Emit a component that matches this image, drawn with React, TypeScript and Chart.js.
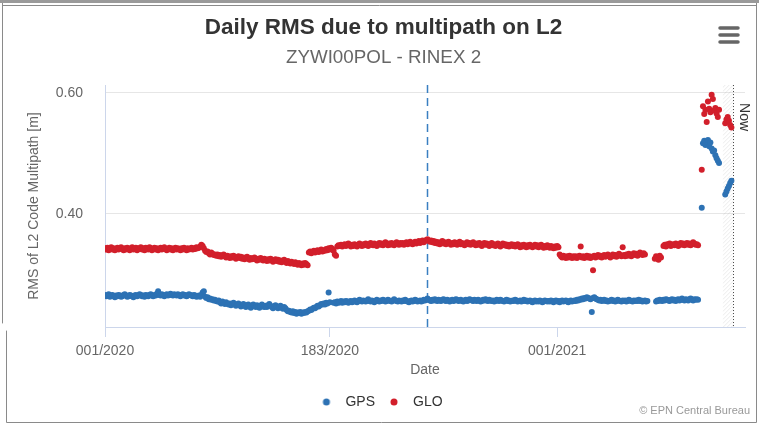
import React, { useEffect, useRef } from 'react';
import { Chart, registerables } from 'chart.js';

Chart.register(...registerables);

const FONT = "'Liberation Sans', Arial, Helvetica, sans-serif";

const TITLE = 'Daily RMS due to multipath on L2';
const SUBTITLE = 'ZYWI00POL - RINEX 2';
const X_TITLE = 'Date';
const Y_TITLE = 'RMS of L2 Code Multipath [m]';
const CREDITS = '\u00a9 EPN Central Bureau';
const NOW_LABEL = 'Now';

const SERIES_NAMES = ['GPS', 'GLO'];
const SERIES_COLORS = ['#2d72b4', '#d21f2b'];

// x = day index counted from 001/2020
const X_TICK_DAYS = [0, 182, 366];
const X_TICK_LABELS = ['001/2020', '183/2020', '001/2021'];
const Y_TICKS = [0.4, 0.6];
const X_MIN = 0;
const X_MAX = 518;
const Y_MIN = 0.213;
const Y_MAX = 0.613;
const MARKER_DAY = 261;
const HATCH_START_DAY = 500;
const NOW_DAY = 508.5;

// daily values, index = day since 001/2020
const GPS_RMS = [
  0.266,0.264,0.265,0.267,0.263,0.265,0.266,0.264,0.262,0.265,
  0.264,0.266,0.265,0.263,0.264,0.266,0.267,0.265,0.263,0.264,
  0.266,0.265,0.264,0.262,0.265,0.266,0.264,0.265,0.267,0.266,
  0.264,0.265,0.263,0.266,0.265,0.264,0.266,0.267,0.265,0.264,
  0.266,0.265,0.268,0.272,0.266,0.265,0.267,0.266,0.264,0.266,
  0.267,0.265,0.266,0.268,0.266,0.265,0.267,0.266,0.265,0.267,
  0.266,0.264,0.266,0.267,0.265,0.266,0.264,0.265,0.267,0.266,
  0.265,0.264,0.266,0.265,0.263,0.264,0.265,0.263,0.266,0.270,
  0.272,0.263,0.261,0.262,0.259,0.260,0.258,0.259,0.257,0.258,
  0.256,0.255,0.257,0.254,0.252,0.255,0.253,0.251,0.254,0.252,
  0.250,0.252,0.249,0.251,0.253,0.250,0.248,0.250,0.252,0.249,
  0.247,0.249,0.251,0.248,0.246,0.249,0.250,0.247,0.245,0.248,
  0.250,0.248,0.246,0.249,0.247,0.245,0.248,0.250,0.247,0.246,
  0.248,0.246,0.249,0.251,0.248,0.246,0.244,0.247,0.249,0.246,
  0.244,0.246,0.248,0.245,0.243,0.246,0.244,0.241,0.239,0.240,
  0.238,0.237,0.239,0.236,0.238,0.235,0.237,0.236,0.238,0.235,
  0.237,0.236,0.238,0.237,0.239,0.240,0.242,0.241,0.243,0.245,
  0.244,0.246,0.248,0.247,0.249,0.251,0.250,0.252,0.250,0.253,
  0.252,0.270,0.254,null,null,0.253,0.254,0.252,0.255,0.253,
  0.254,0.256,0.253,0.255,0.254,0.256,0.255,0.253,0.255,0.256,
  0.254,0.255,0.257,0.255,0.254,0.256,0.258,0.256,0.255,0.257,
  0.256,0.255,0.257,0.259,0.256,0.255,0.257,0.256,0.254,0.256,
  0.258,0.256,0.255,0.257,0.256,0.258,0.257,0.255,0.256,0.258,
  0.257,0.256,0.255,0.257,0.259,0.257,0.256,0.255,0.257,0.256,
  0.255,0.257,0.256,0.258,0.256,0.255,0.254,0.256,0.257,0.255,
  0.256,0.258,0.257,0.255,0.256,0.257,0.255,0.256,0.258,0.257,
  0.258,0.260,0.258,0.257,0.256,0.258,0.257,0.259,0.257,0.256,
  0.258,0.257,0.256,0.258,0.259,0.257,0.256,0.258,0.257,0.255,
  0.257,0.258,0.256,0.257,0.259,0.258,0.256,0.257,0.258,0.256,
  0.255,0.257,0.258,0.256,0.257,0.259,0.258,0.257,0.256,0.258,
  0.257,0.256,0.258,0.257,0.255,0.256,0.258,0.257,0.259,0.257,
  0.256,0.258,0.257,0.256,0.257,0.255,0.256,0.258,0.257,0.256,
  0.258,0.257,0.256,0.255,0.257,0.258,0.256,0.257,0.255,0.256,
  0.257,0.256,0.258,0.257,0.255,0.256,0.257,0.255,0.256,0.258,
  0.256,0.257,0.255,0.256,0.257,0.255,0.254,0.256,0.257,0.255,
  0.256,0.255,0.257,0.256,0.254,0.255,0.257,0.256,0.255,0.256,
  0.255,0.257,0.256,0.254,0.256,0.257,0.255,0.256,0.254,0.256,
  0.257,0.255,0.256,0.257,0.255,0.254,0.256,0.257,0.255,0.256,
  0.257,0.256,0.258,0.257,0.259,0.258,0.260,0.259,0.261,0.260,
  0.262,0.261,0.260,0.259,0.238,0.261,0.262,0.260,0.259,0.258,
  0.257,0.258,0.256,0.257,0.258,0.256,0.257,0.255,0.256,0.257,
  0.258,0.256,0.257,0.255,0.256,0.258,0.257,0.256,0.255,0.257,
  0.256,0.257,0.255,0.256,0.258,0.257,0.256,0.255,0.257,0.256,
  0.257,0.256,0.258,0.256,0.257,0.255,0.256,0.257,0.255,0.256,
  null,null,null,null,null,null,0.255,0.257,0.256,0.258,
  0.257,0.256,0.258,0.257,0.259,0.258,0.257,0.256,0.258,0.259,
  0.257,0.258,0.256,0.258,0.259,0.257,0.258,0.260,0.258,0.257,
  0.259,0.258,0.257,0.259,0.260,0.258,0.257,0.259,0.258,0.259,
  0.258,null,null,0.410,0.517,0.521,0.514,0.519,0.522,0.512,
  0.518,0.508,0.503,0.505,0.497,0.492,0.488,0.484,null,null,
  null,null,0.432,0.437,0.442,0.446,0.451,0.455,null,
];

const GLO_RMS = [
  0.343,0.341,0.344,0.340,0.342,0.345,0.341,0.343,0.340,0.342,
  0.344,0.341,0.343,0.345,0.342,0.340,0.343,0.341,0.344,0.342,
  0.340,0.343,0.345,0.341,0.342,0.344,0.340,0.343,0.342,0.345,
  0.341,0.343,0.340,0.344,0.342,0.341,0.345,0.343,0.340,0.342,
  0.344,0.341,0.343,0.340,0.342,0.344,0.341,0.343,0.345,0.342,
  0.340,0.342,0.344,0.341,0.343,0.340,0.342,0.344,0.341,0.343,
  0.342,0.340,0.343,0.341,0.344,0.342,0.340,0.343,0.341,0.342,
  0.344,0.341,0.343,0.342,0.345,0.343,0.344,0.346,0.349,0.347,
  0.343,0.339,0.337,0.338,0.335,0.333,0.336,0.334,0.332,0.333,
  0.331,0.333,0.330,0.332,0.329,0.331,0.333,0.330,0.328,0.331,
  0.329,0.327,0.330,0.328,0.331,0.329,0.326,0.328,0.330,0.327,
  0.329,0.326,0.328,0.325,0.327,0.329,0.326,0.324,0.327,0.325,
  0.326,0.328,0.325,0.323,0.326,0.324,0.327,0.325,0.323,0.326,
  0.324,0.322,0.325,0.323,0.326,0.324,0.321,0.323,0.325,0.322,
  0.324,0.321,0.323,0.320,0.322,0.324,0.321,0.319,0.322,0.320,
  0.318,0.321,0.319,0.317,0.320,0.318,0.316,0.319,0.317,0.315,
  0.318,0.316,0.319,0.317,0.315,0.336,0.338,0.335,0.337,0.339,
  0.336,0.338,0.340,0.337,0.339,0.341,0.338,0.340,0.339,0.342,
  0.340,0.343,0.341,0.344,0.342,0.339,0.333,0.331,0.346,0.348,
  0.347,0.349,0.346,0.348,0.350,0.347,0.349,0.351,0.348,0.346,
  0.349,0.347,0.350,0.348,0.346,0.349,0.351,0.348,0.347,0.350,
  0.348,0.351,0.349,0.347,0.350,0.352,0.349,0.348,0.351,0.349,
  0.347,0.350,0.352,0.349,0.351,0.348,0.350,0.353,0.350,0.348,
  0.351,0.349,0.352,0.350,0.348,0.351,0.353,0.350,0.349,0.352,
  0.350,0.352,0.349,0.351,0.353,0.350,0.352,0.354,0.351,0.350,
  0.352,0.354,0.351,0.353,0.355,0.352,0.354,0.356,0.353,0.355,
  0.357,0.358,0.356,0.354,0.356,0.353,0.355,0.352,0.354,0.351,
  0.353,0.350,0.352,0.355,0.351,0.353,0.350,0.352,0.354,0.351,
  0.349,0.352,0.350,0.353,0.351,0.349,0.352,0.354,0.350,0.352,
  0.350,0.348,0.351,0.353,0.350,0.352,0.349,0.351,0.353,0.350,
  0.348,0.351,0.349,0.352,0.350,0.347,0.350,0.352,0.349,0.351,
  0.349,0.347,0.350,0.352,0.348,0.350,0.347,0.349,0.351,0.348,
  0.346,0.349,0.351,0.348,0.350,0.347,0.349,0.346,0.348,0.350,
  0.347,0.349,0.346,0.348,0.350,0.347,0.345,0.348,0.346,0.349,
  0.347,0.345,0.348,0.346,0.349,0.347,0.345,0.347,0.349,0.346,
  0.348,0.345,0.347,0.349,0.346,0.344,0.347,0.345,0.348,0.346,
  0.344,0.347,0.345,0.343,0.346,0.344,0.347,0.345,0.333,0.330,
  0.328,0.331,0.329,0.327,0.330,0.328,0.331,0.329,0.327,0.330,
  0.328,0.330,0.327,0.329,0.331,0.346,0.328,0.330,0.327,0.329,
  0.331,0.328,0.330,0.327,0.329,0.307,0.331,0.328,0.330,0.332,
  0.329,0.331,0.328,0.330,0.332,0.329,0.331,0.333,0.330,0.328,
  0.331,0.333,0.330,0.332,0.329,0.331,0.334,0.332,0.330,0.345,
  0.332,0.330,0.333,0.331,0.334,0.332,0.330,0.333,0.335,0.332,
  0.334,0.331,0.333,0.336,0.334,0.332,0.335,0.333,null,null,
  null,null,null,null,null,0.326,0.330,0.327,0.324,0.331,
  0.328,null,0.347,0.349,0.346,0.350,0.348,0.351,0.347,0.349,
  0.350,0.348,0.351,0.349,0.347,0.350,0.352,0.349,0.351,0.348,
  0.350,0.352,0.349,0.351,0.348,0.350,0.353,0.351,0.349,0.350,
  0.348,null,null,0.473,0.578,0.565,0.572,0.552,0.586,0.574,
  0.568,0.597,0.590,0.571,0.575,0.566,0.560,0.572,null,null,
  null,null,0.550,0.556,0.560,0.554,0.547,0.543,null,
];

const SERIES_VALUES = [GPS_RMS, GLO_RMS];

function toPoints(values: (number | null)[]) {
  const pts: { x: number; y: number }[] = [];
  values.forEach((v, i) => {
    if (v !== null) pts.push({ x: i, y: v });
  });
  return pts;
}

function makeLegendDot(color: string) {
  const c = document.createElement('canvas');
  c.width = 20;
  c.height = 14;
  const g = c.getContext('2d')!;
  g.fillStyle = color;
  g.beginPath();
  g.arc(5, 7, 3.5, 0, Math.PI * 2);
  g.fill();
  return c;
}

const decorPlugin = {
  id: 'decor',
  beforeDatasetsDraw(chart: any) {
    const { ctx, chartArea } = chart;
    const xs = chart.scales.x;
    const { top, bottom, left, right } = chartArea;
    ctx.save();
    ctx.beginPath();
    ctx.rect(left, top, right - left, bottom - top);
    ctx.clip();
    // hatched band before "Now"
    const hx0 = xs.getPixelForValue(HATCH_START_DAY);
    const hx1 = xs.getPixelForValue(NOW_DAY);
    ctx.save();
    ctx.beginPath();
    ctx.rect(hx0, top, hx1 - hx0, bottom - top);
    ctx.clip();
    ctx.strokeStyle = 'rgba(150,150,150,0.2)';
    ctx.lineWidth = 1;
    for (let y = top - 20; y < bottom + 20; y += 4) {
      ctx.beginPath();
      ctx.moveTo(hx0, y + (hx1 - hx0));
      ctx.lineTo(hx1, y);
      ctx.stroke();
    }
    ctx.restore();
    // dashed marker line
    const mx = Math.round(xs.getPixelForValue(MARKER_DAY)) + 0.5;
    ctx.strokeStyle = '#3a7fc1';
    ctx.lineWidth = 1.5;
    ctx.setLineDash([8, 5]);
    ctx.beginPath();
    ctx.moveTo(mx, top);
    ctx.lineTo(mx, bottom);
    ctx.stroke();
    // dotted "Now" line
    const nx = Math.round(xs.getPixelForValue(NOW_DAY)) + 0.5;
    ctx.strokeStyle = '#444';
    ctx.lineWidth = 1;
    ctx.setLineDash([1, 2]);
    ctx.beginPath();
    ctx.moveTo(nx, top);
    ctx.lineTo(nx, bottom);
    ctx.stroke();
    ctx.restore();
  },
  afterDraw(chart: any) {
    const { ctx, chartArea } = chart;
    const xs = chart.scales.x;
    ctx.save();
    // "Now" label
    const nx = xs.getPixelForValue(NOW_DAY);
    ctx.translate(nx + 11, chartArea.top + 32);
    ctx.rotate(Math.PI / 2);
    ctx.fillStyle = '#333';
    ctx.font = `14px ${FONT}`;
    ctx.textAlign = 'center';
    ctx.textBaseline = 'middle';
    ctx.fillText(NOW_LABEL, 0, 0);
    ctx.restore();

    ctx.save();
    // menu icon
    ctx.strokeStyle = '#666';
    ctx.lineWidth = 3.5;
    ctx.lineCap = 'round';
    [28, 35, 42].forEach((y) => {
      ctx.beginPath();
      ctx.moveTo(720, y);
      ctx.lineTo(738, y);
      ctx.stroke();
    });
    // credits
    ctx.fillStyle = '#999';
    ctx.font = `11px ${FONT}`;
    ctx.textAlign = 'right';
    ctx.textBaseline = 'middle';
    ctx.fillText(CREDITS, 750, 411);
    // outer frame
    ctx.strokeStyle = '#8a8a8a';
    ctx.lineWidth = 1;
    ctx.beginPath();
    ctx.moveTo(2.5, 0);
    ctx.lineTo(2.5, 323);
    ctx.moveTo(6.5, 331);
    ctx.lineTo(6.5, 422.5);
    ctx.lineTo(756.5, 422.5);
    ctx.lineTo(756.5, 0);
    ctx.moveTo(2.5, 5.5);
    ctx.lineTo(756.5, 5.5);
    ctx.stroke();
    ctx.fillStyle = '#9a9a9a';
    ctx.fillRect(0, 0, 759, 3);
    ctx.restore();
  },
};

export default function App() {
  const ref = useRef<HTMLCanvasElement | null>(null);

  useEffect(() => {
    if (!ref.current) return;
    const tickFont = { family: FONT, size: 14 };
    const chart = new Chart(ref.current, {
      type: 'scatter',
      data: {
        datasets: SERIES_NAMES.map((name, i) => ({
          label: name,
          data: toPoints(SERIES_VALUES[i]),
          backgroundColor: SERIES_COLORS[i],
          borderColor: SERIES_COLORS[i],
          pointRadius: 3,
          pointHoverRadius: 3,
          pointBorderWidth: 0,
          showLine: false,
        })),
      },
      options: {
        animation: false,
        responsive: false,
        devicePixelRatio: 1,
        events: [],
        layout: { padding: { left: 22, right: 14, top: 0, bottom: 7 } },
        plugins: {
          title: {
            display: true,
            text: TITLE,
            color: '#333',
            font: { family: FONT, size: 22.5, weight: 'bold' },
            padding: { top: 14, bottom: 0 },
          },
          subtitle: {
            display: true,
            text: SUBTITLE,
            color: '#666',
            font: { family: FONT, size: 18.8 },
            padding: { top: 5.5, bottom: 16 },
          },
          legend: {
            display: true,
            position: 'bottom',
            labels: {
              usePointStyle: true,
              boxWidth: 14,
              boxHeight: 14,
              padding: 17,
              color: '#333',
              font: { family: FONT, size: 14 },
              generateLabels(chart: any) {
                const items = Chart.defaults.plugins.legend.labels.generateLabels(chart);
                items.forEach((it: any, i: number) => {
                  it.pointStyle = makeLegendDot(SERIES_COLORS[i]);
                });
                return items;
              },
            },
          },
          tooltip: { enabled: false },
        },
        scales: {
          x: {
            type: 'linear',
            min: X_MIN,
            max: X_MAX,
            afterBuildTicks: (s: any) => {
              s.ticks = X_TICK_DAYS.map((v) => ({ value: v }));
            },
            afterFit: (s: any) => {
              s.height = 51;
            },
            ticks: {
              autoSkip: false,
              maxRotation: 0,
              padding: 6,
              color: '#666',
              font: tickFont,
              callback: (v: any) => {
                const k = X_TICK_DAYS.indexOf(Number(v));
                return k >= 0 ? X_TICK_LABELS[k] : '';
              },
            },
            grid: {
              drawOnChartArea: false,
              drawTicks: true,
              tickLength: 10,
              color: '#ccd6eb',
            },
            border: { display: true, color: '#ccd6eb' },
            title: {
              display: true,
              text: X_TITLE,
              color: '#666',
              font: { family: FONT, size: 14 },
              padding: { top: 0, bottom: -1 },
            },
          },
          y: {
            type: 'linear',
            min: Y_MIN,
            max: Y_MAX,
            afterBuildTicks: (s: any) => {
              s.ticks = Y_TICKS.map((v) => ({ value: v }));
            },
            afterFit: (s: any) => {
              s.width = 83;
            },
            ticks: {
              padding: 22,
              color: '#666',
              font: tickFont,
              callback: (v: any) => Number(v).toFixed(2),
            },
            grid: { color: '#e6e6e6', drawTicks: false },
            border: { display: true, color: '#ccd6eb' },
            title: {
              display: true,
              text: Y_TITLE,
              color: '#666',
              font: { family: FONT, size: 14 },
              padding: { top: 4, bottom: 0 },
            },
          },
        },
      },
      plugins: [decorPlugin],
    } as any);
    return () => chart.destroy();
  }, []);

  return (
    <div
      style={{
        position: 'fixed',
        left: 0,
        top: 0,
        width: 759,
        height: 426,
        background: '#fff',
        overflow: 'hidden',
      }}
    >
      <canvas ref={ref} width={759} height={426} style={{ display: 'block', width: 759, height: 426 }} />
    </div>
  );
}
